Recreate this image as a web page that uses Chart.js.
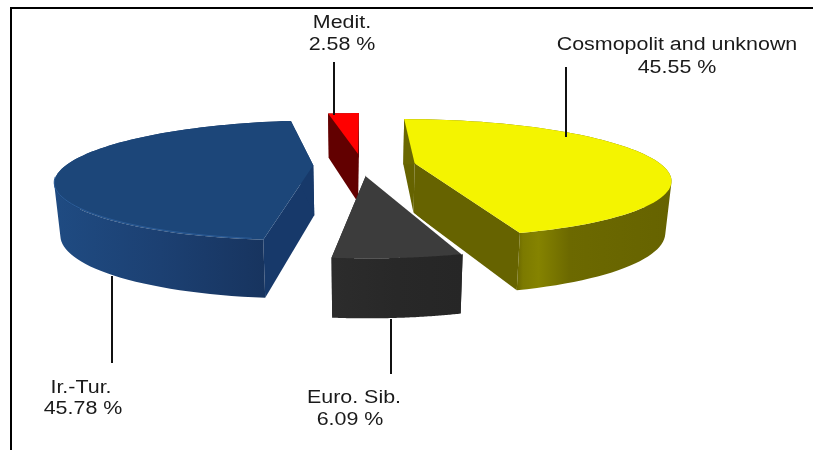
<!DOCTYPE html>
<html>
<head>
<meta charset="utf-8">
<title>Chorotype pie</title>
<script src="https://cdn.jsdelivr.net/npm/chart.js@4/dist/chart.umd.js"></script>
<style>
  html, body { margin: 0; background: #fff; }
  canvas { display: block; }
</style>
</head>
<body>
<canvas id="pie" width="813" height="450"></canvas>
<script>
// clockwise from 12 o'clock
const categories = ["Cosmopolit and unknown", "Euro. Sib.", "Ir.-Tur.", "Medit."];
const percents = [45.55, 6.09, 45.78, 2.58];
const explode = [44, 36, 40, 42];
const topColors = ["#f4f400", "#3c3c3c", "#1c4679", "#ff0000"];
const wallColors = ["#666300", "#282828", "#17396a", "#620000"];
const rimStops = [
  [[0, "#6a6700"], [0.04, "#7c7a00"], [0.14, "#858300"], [0.34, "#6c6900"], [1, "#666300"]],
  [[0, "#2c2c2c"], [0.5, "#282828"], [1, "#262626"]],
  [[0, "#1f4b82"], [0.45, "#1c4072"], [1, "#16315a"]],
  [[0, "#620000"], [1, "#620000"]]
];
// back to front
const drawOrder = [3, 2, 0, 1];

// label text placement and leader lines, in page pixels
const labelPos = [[677, 45, 677, 68], [354, 398, 350, 420], [81, 388, 83, 409], [342, 23, 342, 45]];
const leaders = [[566, 67, 137], [391, 319, 374], [112, 276, 363], [334, 62, 115]];

// tilted view of the flat pie
const view = { cx: 362, cy: 165, rx: 247, ry: 56, k: 0.25, bottomX: 0.98 };

function project(px, py, arc, chart) {
  const a = chart.chartArea;
  const X = (px - (a.left + a.right) / 2) / arc.outerRadius;
  const Y = ((a.top + a.bottom) / 2 - py) / arc.outerRadius;
  const w = 1 / (1 + view.k * Y);
  const x = view.cx + view.rx * X * w;
  const y = view.cy - view.ry * Y * w;
  return {
    x, y,
    bx: view.cx + (x - view.cx) * view.bottomX,
    by: y + 26 + 24 * w
  };
}

function sliceOutline(arc, chart) {
  const mid = (arc.startAngle + arc.endAngle) / 2;
  const off = arc.options.offset || 0;
  const ox = arc.x + Math.cos(mid) * off;
  const oy = arc.y + Math.sin(mid) * off;
  const rim = [];
  const steps = 80;
  for (let i = 0; i <= steps; i++) {
    const t = arc.startAngle + (arc.endAngle - arc.startAngle) * i / steps;
    rim.push(project(ox + Math.cos(t) * arc.outerRadius, oy + Math.sin(t) * arc.outerRadius, arc, chart));
  }
  return { apex: project(ox, oy, arc, chart), rim };
}

function fillPoly(ctx, pts, style) {
  ctx.beginPath();
  pts.forEach((p, i) => (i ? ctx.lineTo(p[0], p[1]) : ctx.moveTo(p[0], p[1])));
  ctx.closePath();
  ctx.fillStyle = style;
  ctx.fill();
}

// rim band as one path, every quad wound the same way so the fold at the sides stays filled
function fillBand(ctx, rim, style) {
  ctx.beginPath();
  for (let n = 1; n < rim.length; n++) {
    const a = rim[n - 1], b = rim[n];
    const quad = [[a.x, a.y], [b.x, b.y], [b.bx, b.by], [a.bx, a.by]];
    let area = 0;
    quad.forEach((p, j) => {
      const q = quad[(j + 1) % 4];
      area += p[0] * q[1] - q[0] * p[1];
    });
    if (area < 0) quad.reverse();
    quad.forEach((p, j) => (j ? ctx.lineTo(p[0], p[1]) : ctx.moveTo(p[0], p[1])));
    ctx.closePath();
  }
  ctx.fillStyle = style;
  ctx.fill();
}

const tiltedPie = {
  id: "tiltedPie",
  beforeDatasetDraw(chart) {
    const ctx = chart.ctx;
    const arcs = chart.getDatasetMeta(0).data;
    ctx.save();
    drawOrder.forEach(i => {
      const { apex, rim } = sliceOutline(arcs[i], chart);
      const first = rim[0], last = rim[rim.length - 1];
      // radial walls
      fillPoly(ctx, [[apex.x, apex.y], [apex.bx, apex.by], [first.bx, first.by], [first.x, first.y]], wallColors[i]);
      fillPoly(ctx, [[apex.x, apex.y], [apex.bx, apex.by], [last.bx, last.by], [last.x, last.y]], wallColors[i]);
      // outer rim
      const xs = rim.map(p => p.x);
      const left = Math.min(...xs), right = Math.max(...xs);
      const grad = ctx.createLinearGradient(i === 0 ? last.bx : left, 0, right, 0);
      rimStops[i].forEach(s => grad.addColorStop(s[0], s[1]));
      fillBand(ctx, rim, grad);
      // top face
      const top = [[apex.x, apex.y]].concat(rim.map(p => [p.x, p.y]));
      fillPoly(ctx, top, arcs[i].options.backgroundColor);
      if (i === 2) {
        // pale lip along the front of the blue slice
        ctx.beginPath();
        rim.slice(1, 36).forEach((p, n) => (n ? ctx.lineTo(p.x, p.y - 1) : ctx.moveTo(p.x, p.y - 1)));
        ctx.strokeStyle = "#2b5c98";
        ctx.lineWidth = 1;
        ctx.stroke();
      }
      if (i === 1) {
        // white gap between the dark slice and the yellow wall
        ctx.beginPath();
        ctx.moveTo(apex.x, apex.y);
        ctx.lineTo(first.x, first.y);
        ctx.strokeStyle = "#ffffff";
        ctx.lineWidth = 2;
        ctx.stroke();
      }
    });
    ctx.restore();
    return false;
  },
  afterDraw(chart) {
    const ctx = chart.ctx;
    ctx.save();
    // frame: top and left only
    ctx.fillStyle = "#000";
    ctx.fillRect(10, 7, 803, 2);
    ctx.fillRect(10, 7, 2, 443);
    // leaders
    ctx.strokeStyle = "#111";
    ctx.lineWidth = 2;
    leaders.forEach(l => {
      ctx.beginPath();
      ctx.moveTo(l[0], l[1]);
      ctx.lineTo(l[0], l[2]);
      ctx.stroke();
    });
    // labels, stretched sideways like the source image
    ctx.fillStyle = "#1a1a1a";
    ctx.font = '18px "Liberation Sans"';
    ctx.textAlign = "center";
    ctx.textBaseline = "middle";
    const text = (s, x, y) => {
      ctx.save();
      ctx.translate(x, y);
      ctx.scale(1.19, 1);
      ctx.fillText(s, 0, 0);
      ctx.restore();
    };
    categories.forEach((c, i) => {
      const p = labelPos[i];
      text(c, p[0], p[1]);
      text(percents[i].toFixed(2) + " %", p[2], p[3]);
    });
    ctx.restore();
  }
};

new Chart(document.getElementById("pie"), {
  type: "pie",
  data: {
    labels: categories,
    datasets: [{
      data: percents,
      backgroundColor: topColors,
      offset: explode,
      borderWidth: 0
    }]
  },
  options: {
    responsive: false,
    animation: false,
    layout: { padding: 0 },
    plugins: { legend: { display: false }, tooltip: { enabled: false } }
  },
  plugins: [tiltedPie]
});
</script>
</body>
</html>
